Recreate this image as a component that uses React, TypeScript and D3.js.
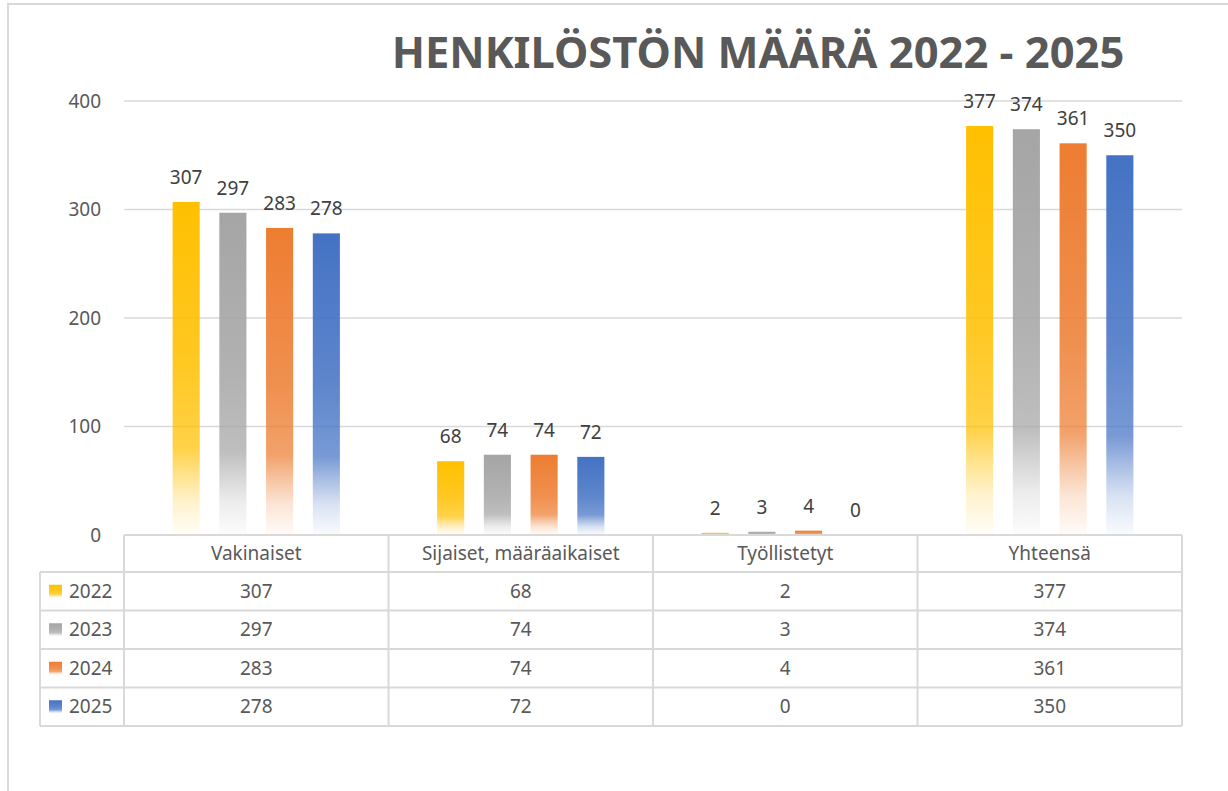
import React, { useEffect, useRef } from 'react';
import * as d3 from 'd3';

const categories = ['Vakinaiset', 'Sijaiset, määräaikaiset', 'Työllistetyt', 'Yhteensä'];
const years = ['2022', '2023', '2024', '2025'];
const colors = ['#FFC000', '#A5A5A5', '#ED7D31', '#4472C4'];
const values2022 = [307, 68, 2, 377];
const values2023 = [297, 74, 3, 374];
const values2024 = [283, 74, 4, 361];
const values2025 = [278, 72, 0, 350];
const yTicks = [0, 100, 200, 300, 400];
const title = 'HENKILÖSTÖN MÄÄRÄ 2022 - 2025';

const FONT = '"Segoe UI", "Noto Sans", sans-serif';

const App = () => {
    const svgRef = useRef<SVGSVGElement>(null);

    useEffect(() => {
        const svg = d3.select(svgRef.current);
        svg.selectAll('*').remove();

        const series = [values2022, values2023, values2024, values2025];

        const plotLeft = 124;
        const plotRight = 1182;
        const plotTop = 101;
        const plotBottom = 535;
        const headerH = 37;
        const rowH = 38.5;
        const legendLeft = 40;

        const x = d3.scaleBand().domain(categories).range([plotLeft, plotRight]).padding(0);
        const xInner = d3.scaleBand().domain(years).range([0, x.bandwidth()])
            .paddingInner(0.42).paddingOuter(1.04);
        const y = d3.scaleLinear().domain([0, 400]).range([plotBottom, plotTop]);

        // gradients, one per year
        const defs = svg.append('defs');
        years.forEach((yr, i) => {
            const g = defs.append('linearGradient')
                .attr('id', `grad-${yr}`)
                .attr('x1', 0).attr('y1', 0).attr('x2', 0).attr('y2', 1);
            [[0, 1], [0.5, 0.86], [0.74, 0.72], [0.82, 0.45], [0.9, 0.2], [1, 0.03]].forEach(([o, a]) => {
                g.append('stop').attr('offset', o).attr('stop-color', colors[i]).attr('stop-opacity', a);
            });
        });

        // outer frame
        svg.append('rect')
            .attr('x', 8).attr('y', 4)
            .attr('width', 1240).attr('height', 800)
            .attr('fill', 'white')
            .attr('stroke', '#d9d9d9')
            .attr('stroke-width', 2);

        // title
        svg.append('text')
            .attr('x', 758)
            .attr('y', 68)
            .attr('text-anchor', 'middle')
            .attr('fill', '#595959')
            .style('font-family', FONT)
            .style('font-weight', 700)
            .style('font-size', '43.5px')
            .text(title);

        // gridlines
        svg.append('g')
            .selectAll('line')
            .data(yTicks.filter(t => t > 0))
            .enter()
            .append('line')
            .attr('x1', plotLeft).attr('x2', plotRight)
            .attr('y1', d => y(d)).attr('y2', d => y(d))
            .attr('stroke', '#d9d9d9')
            .attr('stroke-width', 1.5);

        // y axis labels
        svg.append('g')
            .selectAll('text')
            .data(yTicks)
            .enter()
            .append('text')
            .attr('x', 101)
            .attr('y', d => y(d))
            .attr('dy', '0.35em')
            .attr('text-anchor', 'end')
            .attr('fill', '#595959')
            .style('font-family', FONT)
            .style('font-size', '19px')
            .text(d => d);

        // bars
        series.forEach((vals, si) => {
            const yr = years[si];
            const gs = svg.append('g');
            gs.selectAll('rect')
                .data(vals)
                .enter()
                .append('rect')
                .attr('x', (d, ci) => x(categories[ci])! + xInner(yr)!)
                .attr('y', d => y(d))
                .attr('width', xInner.bandwidth())
                .attr('height', d => plotBottom - y(d))
                .attr('fill', `url(#grad-${yr})`);

            gs.selectAll('text')
                .data(vals)
                .enter()
                .append('text')
                .attr('x', (d, ci) => x(categories[ci])! + xInner(yr)! + xInner.bandwidth() / 2)
                .attr('y', d => y(d) - 18)
                .attr('text-anchor', 'middle')
                .attr('fill', '#404040')
                .style('font-family', FONT)
                .style('font-size', '19px')
                .text(d => d);
        });

        // data table
        const table = svg.append('g');
        const tableBottom = plotBottom + headerH + rowH * years.length;
        const lineStyle = (sel: any) => sel.attr('stroke', '#d9d9d9').attr('stroke-width', 2);

        // header top line
        table.append('line')
            .attr('x1', plotLeft).attr('x2', plotRight)
            .attr('y1', plotBottom).attr('y2', plotBottom)
            .call(lineStyle);
        // row lines
        d3.range(years.length + 1).forEach(r => {
            const yy = plotBottom + headerH + r * rowH;
            table.append('line')
                .attr('x1', legendLeft).attr('x2', plotRight)
                .attr('y1', yy).attr('y2', yy)
                .call(lineStyle);
        });
        // vertical lines
        table.append('line')
            .attr('x1', legendLeft).attr('x2', legendLeft)
            .attr('y1', plotBottom + headerH).attr('y2', tableBottom)
            .call(lineStyle);
        [plotLeft, ...categories.map(c => x(c)! + x.bandwidth())].forEach(xx => {
            table.append('line')
                .attr('x1', xx).attr('x2', xx)
                .attr('y1', plotBottom).attr('y2', tableBottom)
                .call(lineStyle);
        });

        // header labels
        table.selectAll('.cat')
            .data(categories)
            .enter()
            .append('text')
            .attr('x', d => x(d)! + x.bandwidth() / 2)
            .attr('y', plotBottom + headerH / 2)
            .attr('dy', '0.35em')
            .attr('text-anchor', 'middle')
            .attr('fill', '#595959')
            .style('font-family', FONT)
            .style('font-size', '19px')
            .text(d => d);

        // rows
        series.forEach((vals, si) => {
            const cy = plotBottom + headerH + si * rowH + rowH / 2;
            table.append('rect')
                .attr('x', 49).attr('y', cy - 6.5)
                .attr('width', 13).attr('height', 13)
                .attr('fill', `url(#grad-${years[si]})`);
            table.append('text')
                .attr('x', 69)
                .attr('y', cy)
                .attr('dy', '0.35em')
                .attr('fill', '#595959')
                .style('font-family', FONT)
                .style('font-size', '19px')
                .text(years[si]);
            vals.forEach((v, ci) => {
                table.append('text')
                    .attr('x', x(categories[ci])! + x.bandwidth() / 2)
                    .attr('y', cy)
                    .attr('dy', '0.35em')
                    .attr('text-anchor', 'middle')
                    .attr('fill', '#595959')
                    .style('font-family', FONT)
                    .style('font-size', '19px')
                    .text(v);
            });
        });
    }, []);

    return (
        <svg ref={svgRef} width={1228} height={791}
            style={{ position: 'absolute', left: 0, top: 0, background: 'white' }}></svg>
    );
};

export default App;
